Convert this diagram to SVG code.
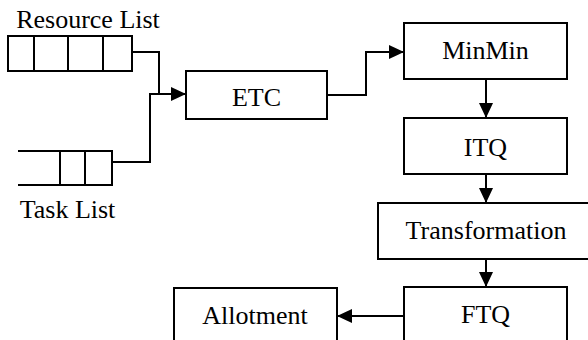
<svg xmlns="http://www.w3.org/2000/svg" width="588" height="340" viewBox="0 0 588 340">
<style>
.box{fill:#fff;stroke:#000;stroke-width:2}
.ln{fill:none;stroke:#000;stroke-width:2}
text{font-family:'Liberation Serif','Times New Roman',Times,serif;font-size:26px;fill:#000;text-anchor:middle}
</style>
<defs>
<marker id="ah" markerUnits="userSpaceOnUse" markerWidth="15" markerHeight="14" refX="15" refY="7" orient="auto">
<path d="M0,0 L15,7 L0,14 Z" fill="#000"/>
</marker>
</defs>
<rect width="588" height="340" fill="#fff"/>
<g id="resource-list">
<text x="88" y="28" font-family="Liberation Serif, serif">Resource List</text>
<rect class="box" x="8" y="36" width="124" height="35"/>
<path class="ln" d="M34,36 V71 M68,36 V71 M103,36 V71"/>
</g>
<g id="task-list">
<path class="ln" d="M18,151 H112 V185 H18 M60,151 V185 M85,151 V185"/>
<text x="67.5" y="218" font-family="Liberation Serif, serif">Task List</text>
</g>
<g id="etc">
<rect class="box" x="186" y="71" width="141" height="48"/>
<text x="256.5" y="106" font-family="Liberation Serif, serif">ETC</text>
</g>
<g id="minmin">
<rect class="box" x="404" y="23" width="163" height="56"/>
<text x="485.5" y="59" font-family="Liberation Serif, serif">MinMin</text>
</g>
<g id="itq">
<rect class="box" x="404" y="118" width="163" height="56"/>
<text x="485.5" y="156" font-family="Liberation Serif, serif">ITQ</text>
</g>
<g id="transformation">
<rect class="box" x="378" y="203" width="220" height="56"/>
<text x="486" y="239" font-family="Liberation Serif, serif">Transformation</text>
</g>
<g id="ftq">
<rect class="box" x="404" y="287" width="163" height="70"/>
<text x="485.5" y="323" font-family="Liberation Serif, serif">FTQ</text>
</g>
<g id="allotment">
<rect class="box" x="174" y="288" width="163" height="70"/>
<text x="255" y="324" font-family="Liberation Serif, serif">Allotment</text>
</g>
<g id="connectors">
<path class="ln" d="M132,52 H159 V94"/>
<path class="ln" d="M112,162 H150 V94 H186" marker-end="url(#ah)"/>
<path class="ln" d="M327,95 H366 V52 H404" marker-end="url(#ah)"/>
<path class="ln" d="M486,79 V118" marker-end="url(#ah)"/>
<path class="ln" d="M486,174 V203" marker-end="url(#ah)"/>
<path class="ln" d="M486,259 V287" marker-end="url(#ah)"/>
<path class="ln" d="M404,316 H337" marker-end="url(#ah)"/>
</g>
</svg>
